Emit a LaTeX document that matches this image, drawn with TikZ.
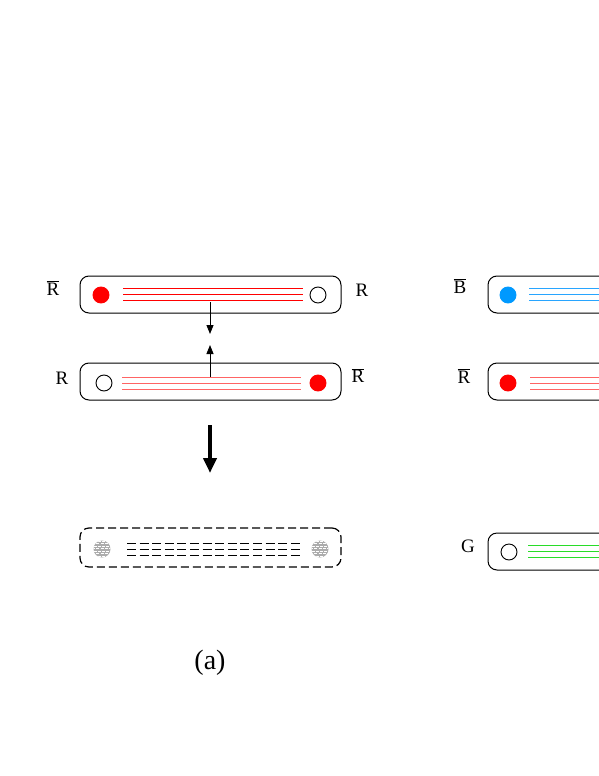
\documentclass[tikz,border=0pt]{standalone}
\usepackage{fontspec}
\setmainfont{Liberation Serif}
\usepackage{tikz}
\usetikzlibrary{arrows.meta, positioning, calc}
\usepackage{xcolor}
\definecolor{quarkred}{RGB}{255,0,0}
\definecolor{quarkblue}{RGB}{0,153,255}
\definecolor{softred}{RGB}{255,100,100}
\definecolor{softblue}{RGB}{40,165,255}
\definecolor{softgreen}{RGB}{40,220,40}
\newcommand{\abar}[1]{$\overline{\mbox{#1}}$}

\begin{document}
\begin{tikzpicture}[x=1pt, y=-1pt,
  every node/.style={font=\fontsize{19}{21}\selectfont},
  tube/.style={draw, rounded corners=9pt, line width=1pt, minimum width=261pt,
               minimum height=37pt, inner sep=0pt},
  quark/.style={circle, draw, line width=0.9pt, minimum size=16pt, inner sep=0pt},
  hatch/.style={circle, minimum size=17pt, inner sep=0pt, fill=gray!65,
     path picture={\foreach \k/\s in {-7/0,-4.5/1.5,-2/0,0.5/1.5,3/0,5.5/1.5,8/0}
        \draw[white, line width=0.7pt, dash pattern=on 3pt off 1.3pt]
          ([xshift=-\s pt, yshift=\k pt]path picture bounding box.west) -- ++(22pt,0);}},
  flux/.style={line width=1.2pt}]

  \useasboundingbox (0,0) rectangle (599,776);
  \clip (0,0) rectangle (599,776);

  % (a): the two strings and what they become
  \node[tube] (t1) at (210.5,294.5) {};
  \node[quark, fill=quarkred, draw=quarkred] (q1) at (101,295) {};
  \node[quark] (a1) at (318,295) {};
  \foreach \y in {288.5,294.5,300.5}
     \draw[flux, quarkred] (123,\y) -- (303,\y);
  \node (l1) at (53,288) {\abar{R}};
  \node (r1) at (362,290) {R};

  \node[tube] (t2) at (210.5,381.5) {};
  \node[quark] (a2) at (104,383) {};
  \node[quark, fill=quarkred, draw=quarkred] (q2) at (318,383) {};
  \foreach \y in {377.5,383.5,389.5}
     \draw[flux, softred] (122,\y) -- (301,\y);
  \node (l2) at (62,378.5) {R};
  \node (r2) at (358,375.5) {\abar{R}};

  \coordinate (d0) at (210,302);
  \coordinate (d1) at (210,334);
  \coordinate (u0) at (210,377);
  \coordinate (u1) at (210,345);
  \draw[-{Triangle[length=9pt,width=7pt]}, line width=0.9pt] (d0) -- (d1);
  \draw[-{Triangle[length=9pt,width=7pt]}, line width=0.9pt] (u0) -- (u1);

  \coordinate (b0) at (210,425);
  \coordinate (b1) at (210,473);
  \draw[-{Triangle[length=15pt,width=13pt]}, line width=3.8pt] (b0) -- (b1);

  \node[tube, dash pattern=on 8pt off 4pt, line width=1.2pt, minimum height=39pt] (t3) at (210.5,547.5) {};
  \node[hatch] (h1) at (102,549) {};
  \node[hatch] (h2) at (320,549) {};
  \foreach \y in {543.5,549.5,555.5}
     \draw[line width=1.2pt, dash pattern=on 9pt off 3.6pt] (127,\y) -- (300,\y);

  \node[font=\fontsize{28}{30}\selectfont] (cap) at (210,663) {(a)};

  % right hand part, cut off by the page
  \node[tube] (s1) at (618.5,294.5) {};
  \node[quark, fill=quarkblue, draw=quarkblue] (q3) at (508,295) {};
  \foreach \y in {288.5,294.5,300.5}
     \draw[flux, softblue] (529,\y) -- (709,\y);
  \node (l3) at (460,286) {\abar{B}};

  \node[tube] (s2) at (618.5,381.5) {};
  \node[quark, fill=quarkred, draw=quarkred] (q4) at (508,383) {};
  \foreach \y in {377.5,383.5,389.5}
     \draw[flux, softred] (530,\y) -- (710,\y);
  \node (l4) at (464,376) {\abar{R}};

  \node[tube] (s3) at (618.5,551.5) {};
  \node[quark] (a3) at (509,552) {};
  \foreach \y in {545.5,551.5,557.5}
     \draw[flux, softgreen] (528,\y) -- (708,\y);
  \node (l5) at (468,546) {G};
\end{tikzpicture}
\end{document}
